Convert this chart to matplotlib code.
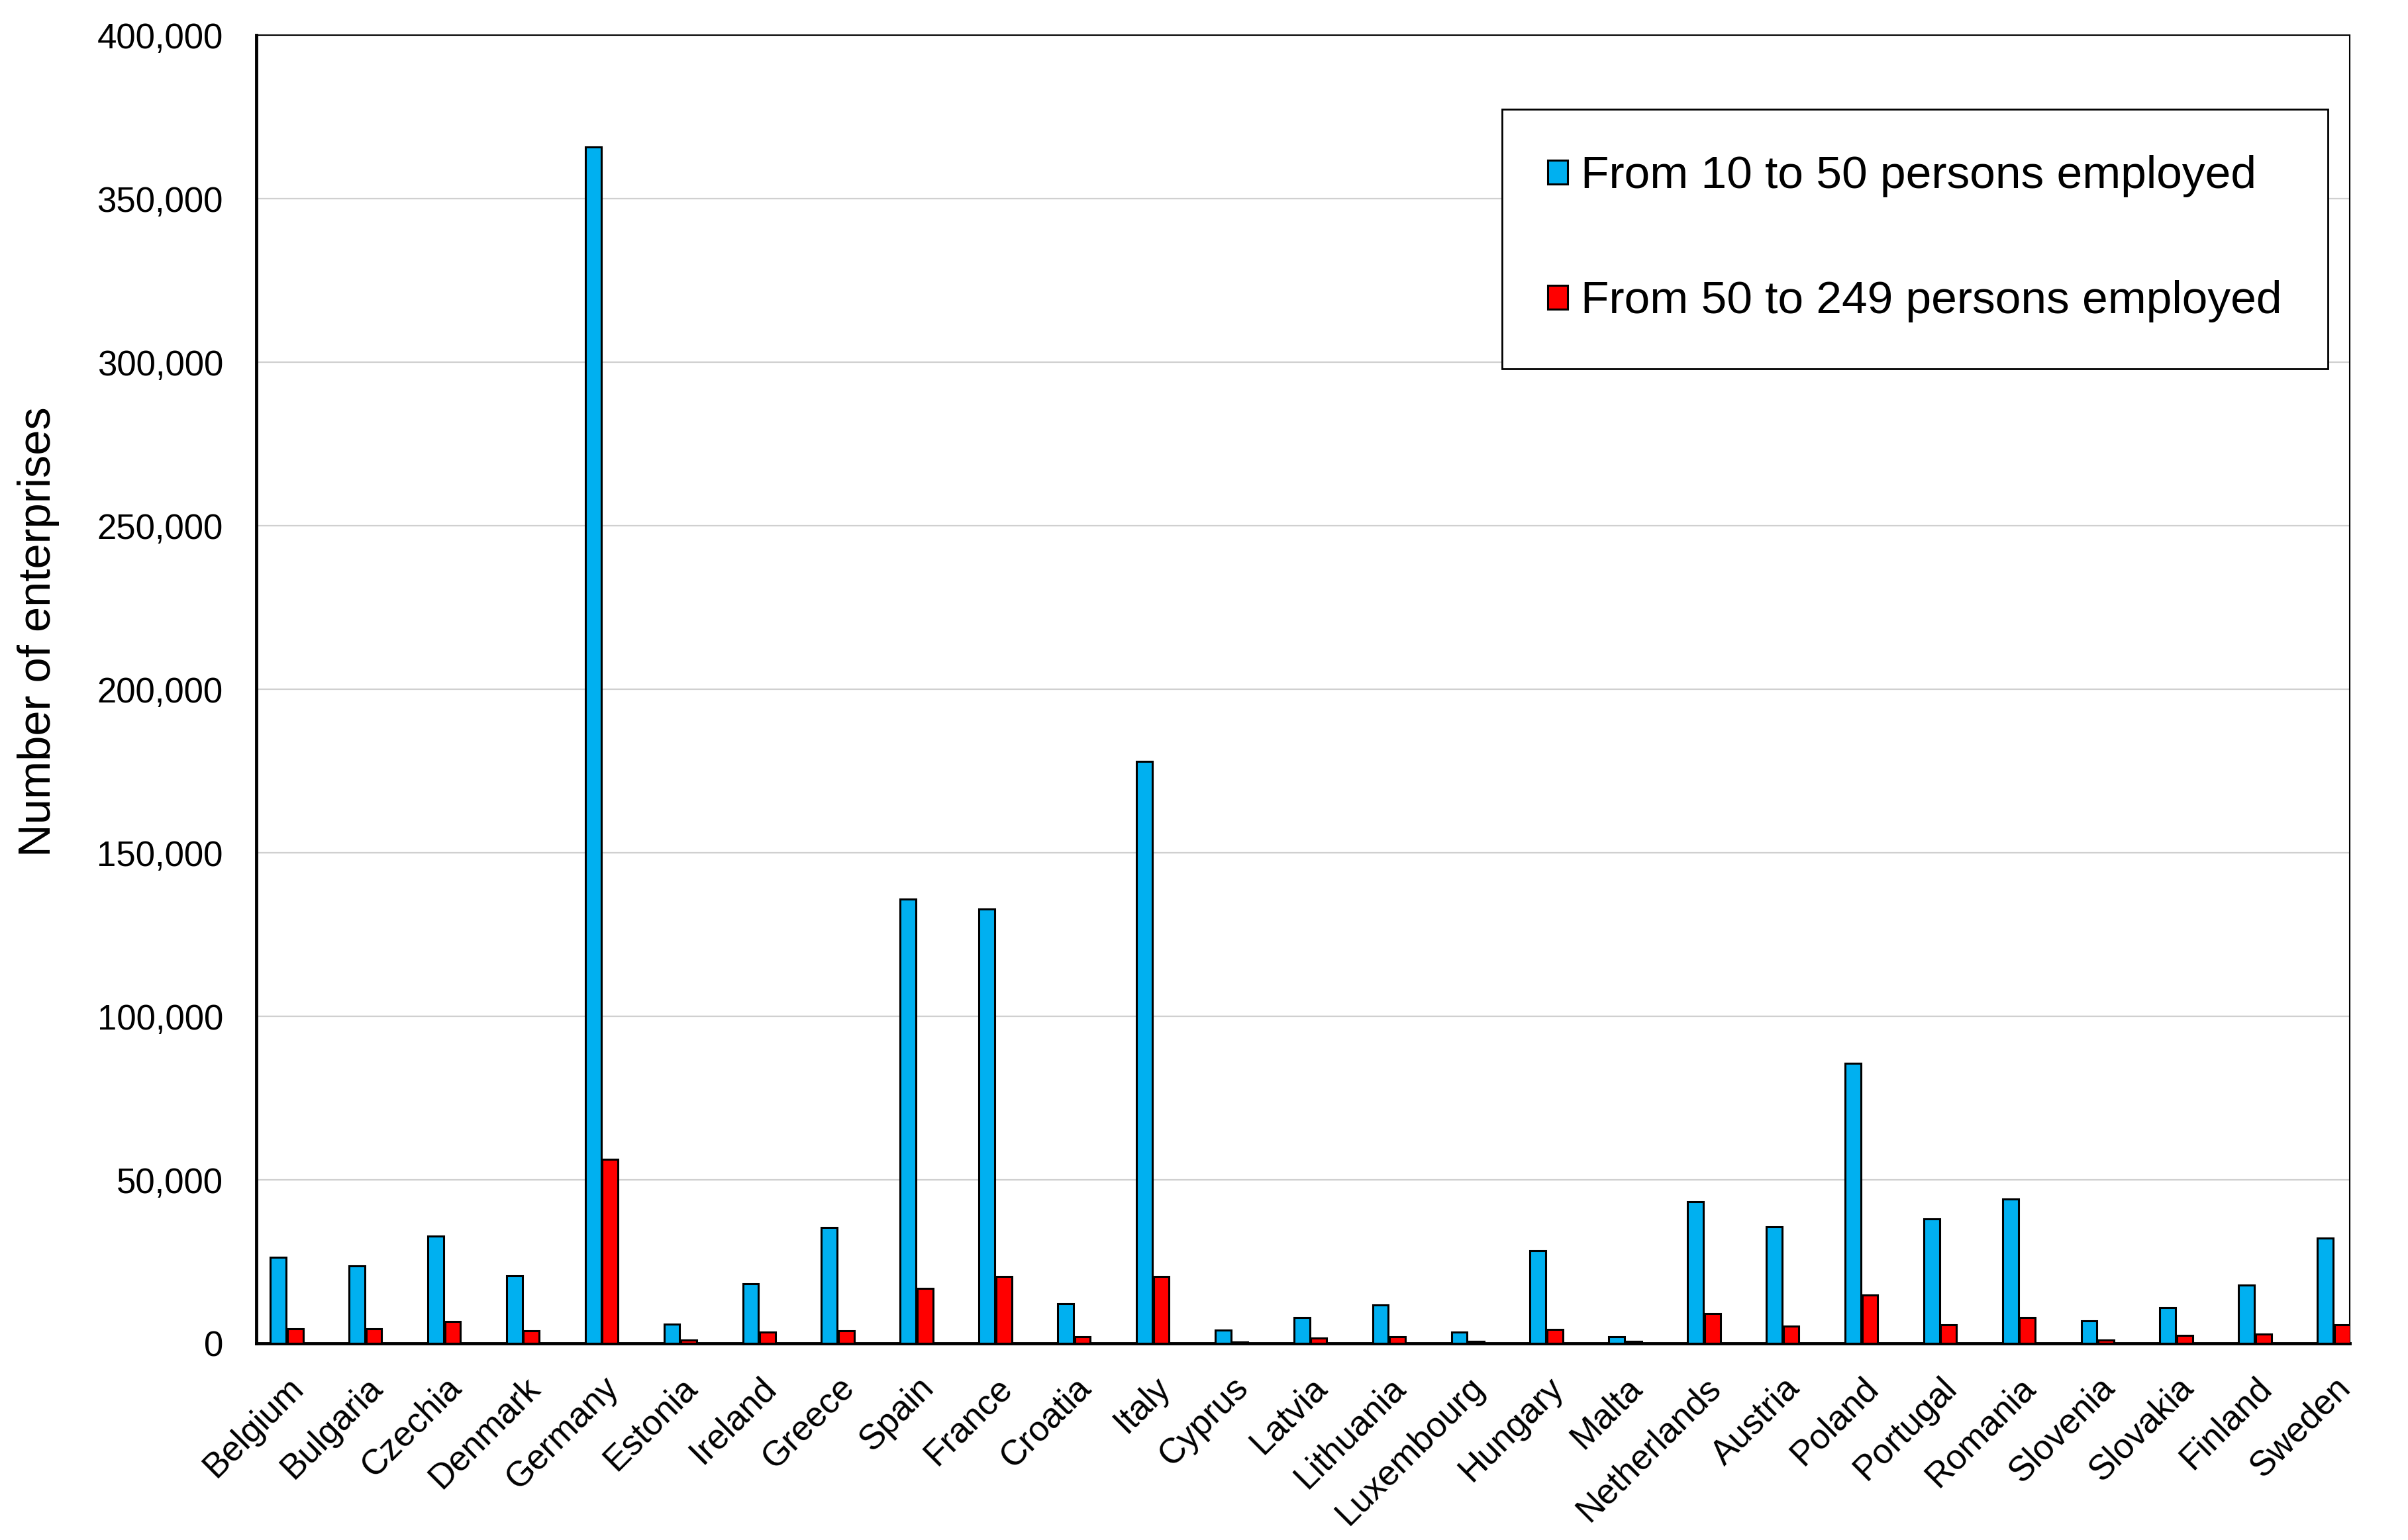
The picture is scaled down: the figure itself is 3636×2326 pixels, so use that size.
import matplotlib
matplotlib.use("Agg")
import matplotlib.pyplot as plt
import numpy as np
from matplotlib.ticker import FuncFormatter, MultipleLocator

countries = ["Belgium", "Bulgaria", "Czechia", "Denmark", "Germany", "Estonia", "Ireland",
             "Greece", "Spain", "France", "Croatia", "Italy", "Cyprus", "Latvia", "Lithuania",
             "Luxembourg", "Hungary", "Malta", "Netherlands", "Austria", "Poland", "Portugal",
             "Romania", "Slovenia", "Slovakia", "Finland", "Sweden"]

small_10_50 = [26400, 23600, 32700, 20600, 365800, 5800, 18300, 35500, 135800, 132900,
               12100, 178000, 4000, 7900, 11700, 3500, 28400, 2000, 43300, 35600, 85700,
               38000, 44200, 6800, 11000, 17800, 32200]

medium_50_249 = [4400, 4400, 6700, 3900, 56200, 1100, 3400, 3900, 16800, 20500,
                 2000, 20500, 300, 1600, 2000, 700, 4300, 600, 9200, 5300, 14800,
                 5700, 7800, 1100, 2500, 2900, 5700]

series_labels = ["From 10 to 50 persons employed", "From 50 to 249 persons employed"]

FONT = ["Liberation Sans", "DejaVu Sans"]
plt.rcParams["font.family"] = FONT

fig = plt.figure(figsize=(36.36, 23.26), dpi=100)
ax = fig.add_axes([0.1064, 0.1277, 0.9758 - 0.1064, 0.977 - 0.1277])

x = np.arange(len(countries))
w = 0.2
off = 0.215
ax.bar(x, small_10_50, width=w, color="#00B0F0", edgecolor="black", linewidth=2.2,
       label=series_labels[0], zorder=3)
ax.bar(x + off, medium_50_249, width=w, color="#FF0000", edgecolor="black", linewidth=2.2,
       label=series_labels[1], zorder=3)

ax.set_ylim(0, 400000)
ax.set_xlim(-0.28, len(countries) - 1 + 0.31)
ax.yaxis.set_major_locator(MultipleLocator(50000))
ax.yaxis.set_major_formatter(FuncFormatter(lambda v, p: f"{int(v):,}"))
ax.grid(axis="y", color="#d0d0d0", linewidth=1.6, zorder=0)
ax.set_axisbelow(True)

ax.set_xticks(x + off / 2)
ax.set_xticklabels(countries, rotation=45, ha="right", rotation_mode="anchor", fontsize=38)
ax.tick_params(axis="x", length=0, pad=30)
ax.tick_params(axis="y", length=0, pad=36, labelsize=38)

for s in ["left", "bottom"]:
    ax.spines[s].set_linewidth(3.5)
    ax.spines[s].set_color("black")
for s in ["top", "right"]:
    ax.spines[s].set_linewidth(1.5)
    ax.spines[s].set_color("black")

fig.text(58 / 3636, 0.590, "Number of enterprises", fontsize=49.5, rotation=90,
         ha="center", va="center")

leg = ax.legend(loc="upper left", bbox_to_anchor=(2268 / 3636, 1 - 165 / 2326),
                bbox_transform=fig.transFigure, fontsize=50, frameon=True, fancybox=False,
                edgecolor="black", framealpha=1, borderpad=1.0, labelspacing=1.8,
                handlelength=0.42, handleheight=0.42, handletextpad=0.3, borderaxespad=0)
leg.get_frame().set_linewidth(2.0)

fig.savefig("out.png", dpi=100)
